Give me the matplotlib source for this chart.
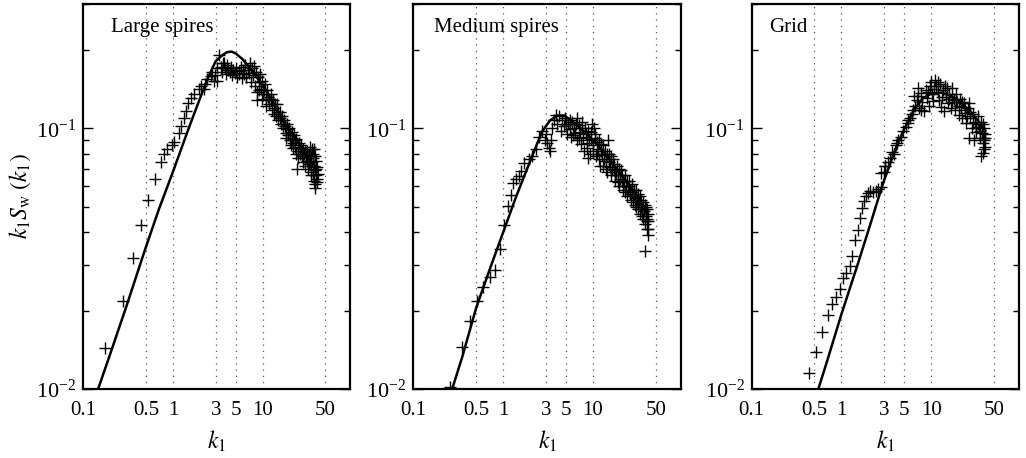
import matplotlib
matplotlib.use('Agg')
import matplotlib.pyplot as plt
from matplotlib.ticker import FixedLocator, FixedFormatter, NullFormatter, LogLocator

plt.rcParams['font.family'] = ['Liberation Serif', 'DejaVu Serif']
plt.rcParams['mathtext.fontset'] = 'stix'

panel_titles = ['Large spires', 'Medium spires', 'Grid']
xtick_vals = [0.1, 0.5, 1, 3, 5, 10, 50]
xtick_labels = ['0.1', '0.5', '1', '3', '5', '10', '50']
grid_vals = [0.5, 1, 3, 5, 10, 50]

large_pts = [
    (0.177, 0.0144), (0.276, 0.0218), (0.362, 0.0318), (0.445, 0.0426), (0.527, 0.0533),
    (0.627, 0.0637), (0.73, 0.0742), (0.79, 0.080), (0.87, 0.083), (0.97, 0.0863),
    (1.03, 0.089), (1.16, 0.096), (1.23, 0.102), (1.32, 0.110), (1.39, 0.117),
    (1.49, 0.125), (1.58, 0.131), (1.72, 0.135), (1.97, 0.141), (2.05, 0.146),
    (2.22, 0.142), (2.3, 0.148), (2.43, 0.154), (2.63, 0.159), (2.7, 0.165),
    (2.86, 0.152), (2.95, 0.160), (3.1, 0.152), (3.14, 0.171), (3.27, 0.192),
    (3.4, 0.172), (3.5, 0.165), (3.6, 0.178), (3.7, 0.178), (3.8, 0.170), (3.9, 0.162),
    (4.0, 0.175), (4.1, 0.168), (4.3, 0.165), (4.4, 0.172), (4.6, 0.160), (4.7, 0.168),
    (4.9, 0.163), (5.0, 0.170), (5.2, 0.158), (5.4, 0.166), (5.5, 0.161), (5.7, 0.172),
    (5.9, 0.156), (6.0, 0.167), (6.2, 0.162), (6.4, 0.175), (6.6, 0.158), (6.8, 0.168),
    (7.0, 0.163), (7.2, 0.178), (7.4, 0.150), (7.6, 0.170), (7.8, 0.160), (8.0, 0.174),
    (8.2, 0.145), (8.4, 0.165), (8.6, 0.138), (8.7, 0.129), (8.8, 0.158), (9.0, 0.150),
    (9.2, 0.140), (9.3, 0.162), (9.6, 0.142), (9.8, 0.130), (9.9, 0.152), (10.2, 0.135),
    (10.4, 0.140), (10.5, 0.148), (10.8, 0.128), (11.0, 0.122), (11.1, 0.140), (11.5, 0.132),
    (11.7, 0.130), (11.9, 0.124), (12.3, 0.136), (12.5, 0.128), (12.7, 0.118), (13.1, 0.128),
    (13.3, 0.114), (13.5, 0.120), (13.8, 0.124), (14.0, 0.112), (14.5, 0.124), (14.8, 0.116),
    (15.0, 0.108), (15.5, 0.116), (15.8, 0.110), (16.0, 0.104), (16.5, 0.112), (16.8, 0.104),
    (17.0, 0.100), (17.5, 0.108), (17.8, 0.102), (18.0, 0.096), (18.3, 0.092), (18.6, 0.104),
    (19.0, 0.099), (19.2, 0.094), (19.8, 0.100), (20.1, 0.094), (20.4, 0.090), (20.8, 0.086),
    (21.0, 0.097), (21.4, 0.092), (21.7, 0.088), (22.0, 0.084), (22.4, 0.094), (22.8, 0.090),
    (23.1, 0.085), (23.5, 0.080), (23.8, 0.091), (24.3, 0.070), (24.5, 0.082), (25.0, 0.077),
    (25.3, 0.088), (25.8, 0.084), (26.1, 0.080), (26.9, 0.086), (27.3, 0.082), (27.7, 0.078),
    (28.0, 0.074), (28.5, 0.083), (29.0, 0.080), (29.4, 0.072), (30.0, 0.081), (30.6, 0.077),
    (31.0, 0.075), (31.6, 0.082), (32.0, 0.070), (32.5, 0.073), (33.0, 0.079), (33.5, 0.085),
    (34.0, 0.074), (34.5, 0.066), (34.8, 0.078), (35.0, 0.068), (35.5, 0.083), (36.0, 0.077),
    (36.5, 0.080), (36.8, 0.066), (37.0, 0.072), (37.3, 0.083), (37.5, 0.063), (38.0, 0.059),
    (38.2, 0.078), (38.5, 0.069), (38.8, 0.061), (39.0, 0.075), (39.5, 0.066), (39.8, 0.070),
    (40.0, 0.062), (40.5, 0.071), (40.8, 0.064), (41.0, 0.067),
]
medium_pts = [
    (0.256, 0.0102), (0.347, 0.0145), (0.43, 0.0182), (0.51, 0.0218), (0.60, 0.0246),
    (0.71, 0.0269), (0.81, 0.0287), (0.92, 0.0345), (1.03, 0.0427), (1.13, 0.0503),
    (1.22, 0.0557), (1.28, 0.0618), (1.38, 0.064), (1.48, 0.0655), (1.57, 0.0685),
    (1.71, 0.0737), (1.94, 0.076), (2.11, 0.078), (2.3, 0.083), (2.5, 0.093),
    (2.7, 0.098), (2.9, 0.090), (3.0, 0.095), (3.1, 0.088), (3.2, 0.084), (3.3, 0.082),
    (3.4, 0.090), (3.5, 0.100), (3.7, 0.108), (3.9, 0.113), (4.0, 0.104), (4.2, 0.112),
    (4.4, 0.098), (4.5, 0.108), (4.7, 0.102), (4.9, 0.110), (5.0, 0.104), (5.1, 0.095),
    (5.3, 0.104), (5.5, 0.099), (5.6, 0.108), (5.7, 0.093), (5.9, 0.106), (6.0, 0.094),
    (6.1, 0.100), (6.3, 0.096), (6.4, 0.104), (6.6, 0.110), (6.7, 0.090), (6.9, 0.103),
    (7.0, 0.092), (7.1, 0.097), (7.3, 0.087), (7.5, 0.100), (7.6, 0.106), (7.8, 0.093),
    (8.0, 0.082), (8.1, 0.100), (8.3, 0.095), (8.5, 0.084), (8.6, 0.088), (8.8, 0.077),
    (8.9, 0.098), (9.0, 0.090), (9.2, 0.080), (9.4, 0.097), (9.5, 0.091), (9.8, 0.104),
    (9.9, 0.082), (10.1, 0.086), (10.2, 0.100), (10.4, 0.095), (10.6, 0.092), (10.7, 0.078),
    (11.0, 0.089), (11.2, 0.080), (11.4, 0.083), (11.6, 0.090), (11.8, 0.076), (12.0, 0.072),
    (12.2, 0.087), (12.4, 0.082), (12.6, 0.079), (12.9, 0.086), (13.0, 0.072), (13.3, 0.076),
    (13.5, 0.082), (13.8, 0.070), (14.0, 0.075), (14.2, 0.080), (14.5, 0.068), (14.8, 0.090),
    (15.0, 0.080), (15.2, 0.074), (15.5, 0.071), (15.8, 0.078), (16.0, 0.066), (16.3, 0.070),
    (16.6, 0.076), (17.0, 0.073), (17.2, 0.069), (17.5, 0.066), (17.8, 0.063), (18.1, 0.068),
    (18.4, 0.072), (18.8, 0.062), (19.0, 0.066), (19.4, 0.070), (19.7, 0.060), (20.0, 0.064),
    (20.4, 0.069), (20.8, 0.066), (21.1, 0.063), (21.5, 0.060), (21.8, 0.058), (22.2, 0.062),
    (22.5, 0.066), (22.9, 0.057), (23.3, 0.060), (23.7, 0.063), (24.1, 0.055), (24.5, 0.058),
    (24.9, 0.063), (25.3, 0.060), (25.7, 0.058), (26.1, 0.056), (26.5, 0.053), (27.0, 0.057),
    (27.4, 0.061), (27.8, 0.052), (28.3, 0.055), (28.7, 0.058), (29.2, 0.051), (29.6, 0.054),
    (30.1, 0.058), (30.5, 0.050), (31.0, 0.053), (31.5, 0.056), (32.0, 0.049), (32.5, 0.052),
    (33.0, 0.055), (33.5, 0.047), (34.0, 0.050), (34.5, 0.053), (35.0, 0.046), (35.5, 0.049),
    (36.0, 0.052), (36.5, 0.045), (37.0, 0.048), (37.5, 0.051), (37.7, 0.0337), (38.0, 0.043),
    (38.5, 0.046), (39.0, 0.050), (39.5, 0.041), (39.5, 0.044), (40.0, 0.045), (40.2, 0.049),
    (40.5, 0.047), (40.7, 0.039), (41.0, 0.041), (41.0, 0.044),
]
grid_pts = [
    (0.437, 0.01155), (0.523, 0.0139), (0.615, 0.0166), (0.703, 0.0193), (0.79, 0.0211),
    (0.874, 0.0226), (0.965, 0.0242), (1.05, 0.0267), (1.14, 0.0279), (1.25, 0.0296),
    (1.32, 0.0325), (1.41, 0.0374), (1.52, 0.0408), (1.62, 0.0453), (1.68, 0.0495),
    (1.77, 0.0525), (1.88, 0.0549), (1.99, 0.0565), (2.1, 0.0574), (2.27, 0.057),
    (2.43, 0.0574), (2.58, 0.0583), (2.8, 0.0598), (2.8, 0.0675), (3.0, 0.068),
    (3.05, 0.0716), (3.1, 0.072), (3.3, 0.074), (3.5, 0.077), (3.7, 0.081), (3.9, 0.080),
    (4.1, 0.086), (4.2, 0.088), (4.3, 0.090), (4.6, 0.093), (4.9, 0.098), (5.2, 0.101),
    (5.5, 0.105), (5.6, 0.108), (5.8, 0.110), (6.1, 0.114), (6.3, 0.118), (6.5, 0.133),
    (6.6, 0.122), (6.9, 0.128), (7.1, 0.133), (7.2, 0.143), (7.4, 0.120), (7.7, 0.137),
    (7.8, 0.118), (8.0, 0.126), (8.4, 0.117), (8.7, 0.140), (9.0, 0.131), (9.2, 0.138),
    (9.4, 0.122), (9.7, 0.145), (10.0, 0.150), (10.3, 0.136), (10.6, 0.127), (10.8, 0.142),
    (11.0, 0.153), (11.4, 0.146), (11.8, 0.138), (12.0, 0.150), (12.2, 0.128), (12.6, 0.148),
    (13.0, 0.121), (13.2, 0.132), (13.5, 0.140), (14.0, 0.117), (14.2, 0.145), (14.5, 0.132),
    (15.0, 0.143), (15.5, 0.125), (15.8, 0.130), (16.0, 0.136), (16.6, 0.120), (17.0, 0.126),
    (17.2, 0.143), (17.8, 0.130), (18.4, 0.118), (18.8, 0.128), (19.0, 0.135), (19.6, 0.126),
    (20.3, 0.113), (20.6, 0.122), (21.0, 0.130), (21.7, 0.121), (22.0, 0.126), (22.4, 0.110),
    (23.2, 0.125), (23.6, 0.118), (24.0, 0.115), (24.8, 0.105), (25.2, 0.112), (25.6, 0.120),
    (26.5, 0.125), (26.8, 0.092), (27.0, 0.116), (27.4, 0.110), (28.3, 0.100), (29.2, 0.114),
    (29.6, 0.105), (30.0, 0.090), (31.0, 0.106), (31.5, 0.100), (32.0, 0.097), (33.0, 0.112),
    (33.5, 0.104), (34.0, 0.101), (35.0, 0.092), (35.5, 0.098), (36.0, 0.106), (36.3, 0.078),
    (37.0, 0.096), (37.5, 0.0805), (37.8, 0.092), (38.0, 0.088), (38.2, 0.104), (38.5, 0.083),
    (39.0, 0.100), (39.2, 0.090), (39.5, 0.085), (39.6, 0.095), (40.0, 0.092),
]

# model curves (k1, k1*Sw)
large_fit = [
    (0.147, 0.0100), (0.2, 0.0136), (0.3, 0.0205), (0.5, 0.0350), (0.7, 0.049),
    (1.0, 0.068), (1.5, 0.100), (2.0, 0.130), (2.5, 0.158), (3.0, 0.181), (3.5, 0.190),
    (4.0, 0.196), (4.5, 0.197), (5.0, 0.194), (6.0, 0.184), (7.0, 0.172), (8.0, 0.163),
    (10, 0.146), (13, 0.126), (17, 0.108), (22, 0.094), (30, 0.080), (40, 0.068),
]
medium_fit = [
    (0.27, 0.010), (0.35, 0.0133), (0.5, 0.0205), (0.7, 0.0285), (1.0, 0.040),
    (1.4, 0.055), (2.0, 0.075), (2.7, 0.097), (3.3, 0.107), (4.0, 0.112), (4.8, 0.112),
    (6.0, 0.106), (8.0, 0.097), (11, 0.087), (15, 0.077), (20, 0.067), (28, 0.058), (40, 0.047),
]
grid_fit = [
    (0.555, 0.0100), (0.7, 0.0129), (1.0, 0.0193), (1.5, 0.0296), (2.0, 0.0405),
    (2.93, 0.0618), (4.0, 0.083), (5.0, 0.099), (6.5, 0.118), (8.0, 0.130), (10, 0.136),
    (13, 0.137), (17, 0.133), (22, 0.125), (30, 0.112), (40, 0.098),
]

fig = plt.figure(figsize=(10.26, 4.58), dpi=100)
lefts = [0.081, 0.403, 0.7325]
all_pts = [large_pts, medium_pts, grid_pts]
all_fit = [large_fit, medium_fit, grid_fit]
title_x = [0.105, 0.078, 0.064]

for i in range(3):
    ax = fig.add_axes([lefts[i], 0.1507, 0.2605, 0.8406])
    for g in grid_vals:
        ax.axvline(g, color='#555555', linestyle=(0, (1, 4)), lw=0.9, zorder=0)
    k, v = zip(*all_pts[i])
    ax.plot(k, v, linestyle='none', marker='+', color='black', markersize=9, mew=1.0)
    fk, fv = zip(*all_fit[i])
    ax.plot(fk, fv, color='black', lw=1.8)
    ax.set_xscale('log')
    ax.set_yscale('log')
    ax.set_xlim(0.1, 95)
    ax.set_ylim(0.01, 0.3)
    ax.xaxis.set_major_locator(FixedLocator(xtick_vals))
    ax.xaxis.set_major_formatter(FixedFormatter(xtick_labels))
    ax.xaxis.set_minor_locator(FixedLocator([]))
    ax.yaxis.set_major_locator(LogLocator(base=10))
    ax.yaxis.set_minor_locator(LogLocator(base=10, subs=range(2, 10)))
    ax.yaxis.set_minor_formatter(NullFormatter())
    ax.tick_params(axis='x', length=0, labelsize=15, pad=9)
    ax.tick_params(axis='y', which='both', direction='in', right=True, labelsize=16, width=1)
    ax.tick_params(axis='y', which='major', length=7, pad=5)
    ax.tick_params(axis='y', which='minor', length=4)
    for s in ax.spines.values():
        s.set_linewidth(1.6)
    ax.text(title_x[i], 0.94, panel_titles[i], transform=ax.transAxes,
            fontsize=15, ha='left', va='center')
    ax.set_xlabel('$k_1$', fontsize=17, labelpad=6)
    if i == 0:
        ax.set_ylabel(r'$k_1S_{\mathrm{w}}\;(k_1)$', fontsize=17, labelpad=2)

fig.savefig('out.png', dpi=100)
